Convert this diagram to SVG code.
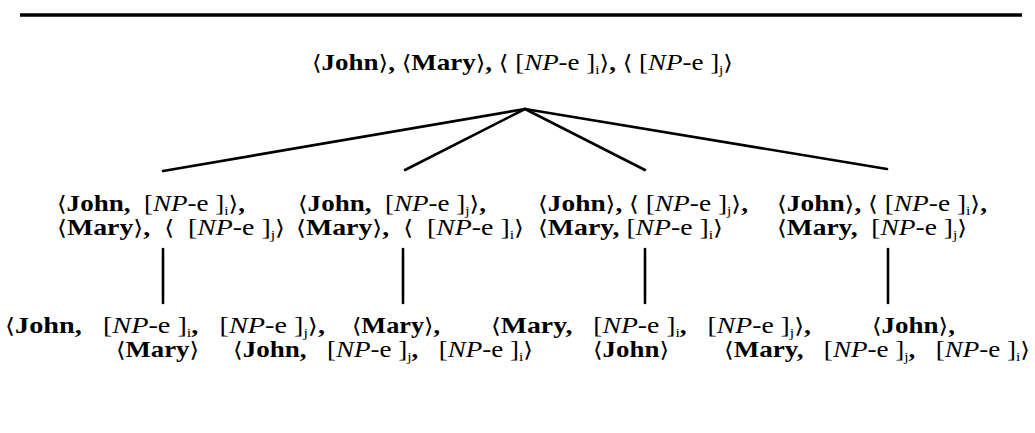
<svg xmlns="http://www.w3.org/2000/svg" width="1035" height="433" viewBox="0 0 1035 433">
  <style>
    text { font-family: "Liberation Serif", "DejaVu Serif", serif; font-size: 23px; font-weight: bold; fill: #000; white-space: pre; }
    .np { font-style: italic; font-weight: normal; }
    .m { font-weight: normal; }
    .b { font-family: "DejaVu Serif", serif; font-weight: normal; font-size: 21px; }
    .s { font-size: 13px; font-weight: normal; }
    .edge { stroke: #000; stroke-width: 2.6; fill: none; stroke-linecap: round; }
    .rule { stroke: #000; stroke-width: 3.5; }
  </style>
  <rect width="1035" height="433" fill="#fff"/>
  <line class="rule" x1="20" y1="15" x2="1022" y2="15"/>

  <!-- root -->
  <g id="root">
    <text x="312" y="70" textLength="421" lengthAdjust="spacingAndGlyphs"><tspan class="b">⟨</tspan>John<tspan class="b">⟩</tspan>, <tspan class="b">⟨</tspan>Mary<tspan class="b">⟩</tspan>, <tspan class="b">⟨</tspan> <tspan class="m">[</tspan><tspan class="np">NP</tspan><tspan class="m">-e ]</tspan><tspan class="s" dy="4">i</tspan><tspan class="b" dy="-4">⟩</tspan>, <tspan class="b">⟨</tspan> <tspan class="m">[</tspan><tspan class="np">NP</tspan><tspan class="m">-e ]</tspan><tspan class="s" dy="4">j</tspan><tspan class="b" dy="-4">⟩</tspan></text>
  </g>

  <!-- second level -->
  <g id="n1">
    <text x="57" y="211" textLength="188" lengthAdjust="spacingAndGlyphs"><tspan class="b">⟨</tspan>John,  <tspan class="m">[</tspan><tspan class="np">NP</tspan><tspan class="m">-e ]</tspan><tspan class="s" dy="4">i</tspan><tspan class="b" dy="-4">⟩</tspan>,</text>
    <text x="57" y="235" textLength="228" lengthAdjust="spacingAndGlyphs"><tspan class="b">⟨</tspan>Mary<tspan class="b">⟩</tspan>,  <tspan class="b">⟨</tspan>  <tspan class="m">[</tspan><tspan class="np">NP</tspan><tspan class="m">-e ]</tspan><tspan class="s" dy="4">j</tspan><tspan class="b" dy="-4">⟩</tspan></text>
  </g>
  <g id="n2">
    <text x="298" y="211" textLength="188" lengthAdjust="spacingAndGlyphs"><tspan class="b">⟨</tspan>John,  <tspan class="m">[</tspan><tspan class="np">NP</tspan><tspan class="m">-e ]</tspan><tspan class="s" dy="4">j</tspan><tspan class="b" dy="-4">⟩</tspan>,</text>
    <text x="296" y="235" textLength="228" lengthAdjust="spacingAndGlyphs"><tspan class="b">⟨</tspan>Mary<tspan class="b">⟩</tspan>,  <tspan class="b">⟨</tspan>  <tspan class="m">[</tspan><tspan class="np">NP</tspan><tspan class="m">-e ]</tspan><tspan class="s" dy="4">i</tspan><tspan class="b" dy="-4">⟩</tspan></text>
  </g>
  <g id="n3">
    <text x="538" y="211" textLength="210" lengthAdjust="spacingAndGlyphs"><tspan class="b">⟨</tspan>John<tspan class="b">⟩</tspan>, <tspan class="b">⟨</tspan> <tspan class="m">[</tspan><tspan class="np">NP</tspan><tspan class="m">-e ]</tspan><tspan class="s" dy="4">j</tspan><tspan class="b" dy="-4">⟩</tspan>,</text>
    <text x="538" y="235" textLength="185" lengthAdjust="spacingAndGlyphs"><tspan class="b">⟨</tspan>Mary, <tspan class="m">[</tspan><tspan class="np">NP</tspan><tspan class="m">-e ]</tspan><tspan class="s" dy="4">i</tspan><tspan class="b" dy="-4">⟩</tspan></text>
  </g>
  <g id="n4">
    <text x="777" y="211" textLength="210" lengthAdjust="spacingAndGlyphs"><tspan class="b">⟨</tspan>John<tspan class="b">⟩</tspan>, <tspan class="b">⟨</tspan> <tspan class="m">[</tspan><tspan class="np">NP</tspan><tspan class="m">-e ]</tspan><tspan class="s" dy="4">i</tspan><tspan class="b" dy="-4">⟩</tspan>,</text>
    <text x="777" y="235" textLength="190" lengthAdjust="spacingAndGlyphs"><tspan class="b">⟨</tspan>Mary,  <tspan class="m">[</tspan><tspan class="np">NP</tspan><tspan class="m">-e ]</tspan><tspan class="s" dy="4">j</tspan><tspan class="b" dy="-4">⟩</tspan></text>
  </g>

  <!-- third level -->
  <g id="b1">
    <text x="5" y="333" textLength="320" lengthAdjust="spacingAndGlyphs"><tspan class="b">⟨</tspan>John,   <tspan class="m">[</tspan><tspan class="np">NP</tspan><tspan class="m">-e ]</tspan><tspan class="s" dy="4">i</tspan><tspan dy="-4">,   </tspan><tspan class="m">[</tspan><tspan class="np">NP</tspan><tspan class="m">-e ]</tspan><tspan class="s" dy="4">j</tspan><tspan class="b" dy="-4">⟩</tspan>,</text>
    <text x="116" y="357" textLength="83" lengthAdjust="spacingAndGlyphs"><tspan class="b">⟨</tspan>Mary<tspan class="b">⟩</tspan></text>
  </g>
  <g id="b2">
    <text x="352" y="333" textLength="88" lengthAdjust="spacingAndGlyphs"><tspan class="b">⟨</tspan>Mary<tspan class="b">⟩</tspan>,</text>
    <text x="233" y="357" textLength="300" lengthAdjust="spacingAndGlyphs"><tspan class="b">⟨</tspan>John,   <tspan class="m">[</tspan><tspan class="np">NP</tspan><tspan class="m">-e ]</tspan><tspan class="s" dy="4">j</tspan><tspan dy="-4">,   </tspan><tspan class="m">[</tspan><tspan class="np">NP</tspan><tspan class="m">-e ]</tspan><tspan class="s" dy="4">i</tspan><tspan class="b" dy="-4">⟩</tspan></text>
  </g>
  <g id="b3">
    <text x="491" y="333" textLength="320" lengthAdjust="spacingAndGlyphs"><tspan class="b">⟨</tspan>Mary,   <tspan class="m">[</tspan><tspan class="np">NP</tspan><tspan class="m">-e ]</tspan><tspan class="s" dy="4">i</tspan><tspan dy="-4">,   </tspan><tspan class="m">[</tspan><tspan class="np">NP</tspan><tspan class="m">-e ]</tspan><tspan class="s" dy="4">j</tspan><tspan class="b" dy="-4">⟩</tspan>,</text>
    <text x="593" y="357" textLength="76" lengthAdjust="spacingAndGlyphs"><tspan class="b">⟨</tspan>John<tspan class="b">⟩</tspan></text>
  </g>
  <g id="b4">
    <text x="872" y="333" textLength="83" lengthAdjust="spacingAndGlyphs"><tspan class="b">⟨</tspan>John<tspan class="b">⟩</tspan>,</text>
    <text x="724" y="357" textLength="306" lengthAdjust="spacingAndGlyphs"><tspan class="b">⟨</tspan>Mary,   <tspan class="m">[</tspan><tspan class="np">NP</tspan><tspan class="m">-e ]</tspan><tspan class="s" dy="4">j</tspan><tspan dy="-4">,   </tspan><tspan class="m">[</tspan><tspan class="np">NP</tspan><tspan class="m">-e ]</tspan><tspan class="s" dy="4">i</tspan><tspan class="b" dy="-4">⟩</tspan></text>
  </g>

  <!-- tree edges -->
  <g id="edges">
    <line class="edge" x1="525" y1="109" x2="163" y2="171"/>
    <line class="edge" x1="525" y1="109" x2="405" y2="170"/>
    <line class="edge" x1="525" y1="109" x2="645" y2="170"/>
    <line class="edge" x1="525" y1="109" x2="887" y2="169"/>
    <line class="edge" x1="163" y1="249" x2="163" y2="303"/>
    <line class="edge" x1="403" y1="249" x2="403" y2="303"/>
    <line class="edge" x1="645" y1="249" x2="645" y2="303"/>
    <line class="edge" x1="888" y1="249" x2="888" y2="303"/>
  </g>
</svg>
